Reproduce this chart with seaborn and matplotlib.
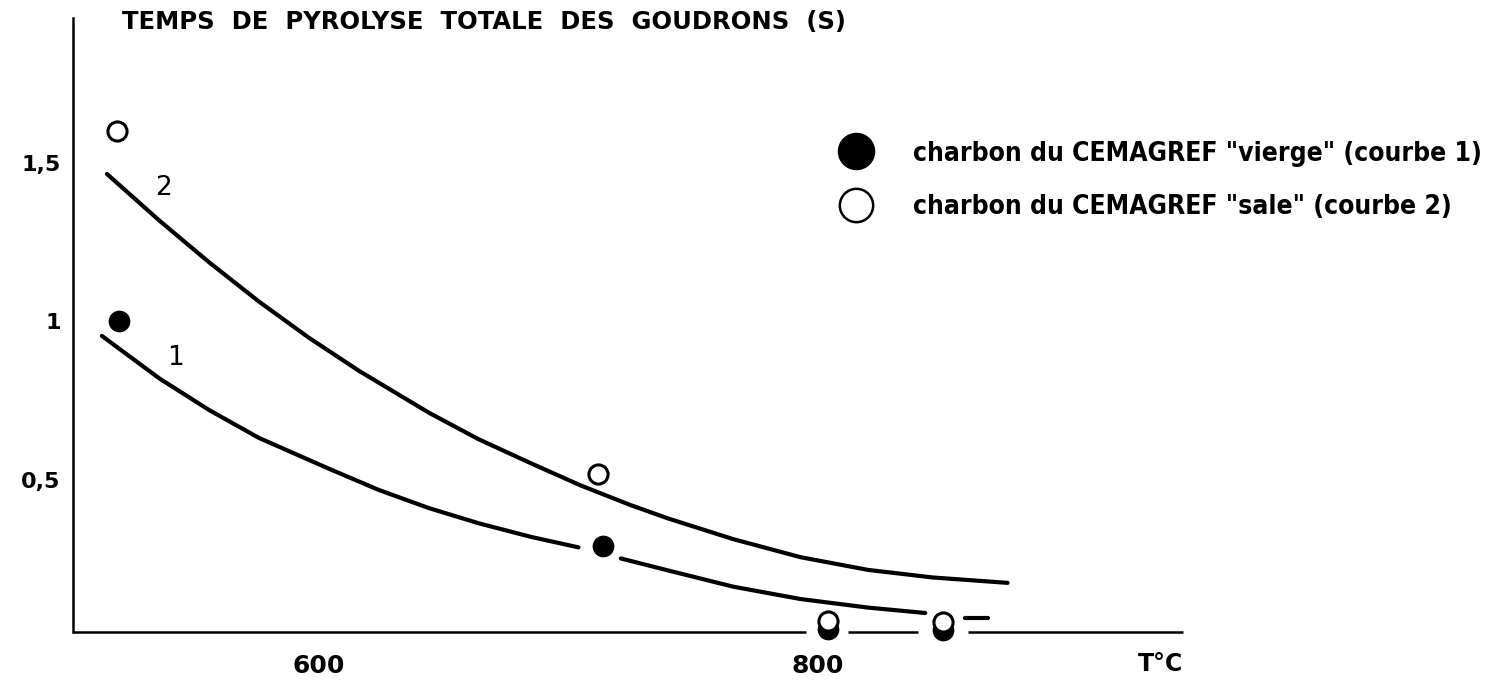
import matplotlib
matplotlib.use("Agg")
import matplotlib.pyplot as plt
from matplotlib.lines import Line2D
import seaborn as sns
import pandas as pd

# measured points (T in degC, time in s)
temp_vierge = [520, 714, 804, 850]
tps_vierge = [1.00, 0.29, 0.030, 0.027]
temp_sale = [519, 712, 804, 850]
tps_sale = [1.60, 0.52, 0.055, 0.052]

# fitted curve 2 ("sale")
curve2_T = [515, 536, 556, 576, 596, 616, 644, 664, 685, 705, 725, 740, 766, 793, 820, 846, 876]
curve2_t = [1.465, 1.318, 1.186, 1.062, 0.948, 0.844, 0.712, 0.628, 0.552, 0.482, 0.420,
            0.378, 0.313, 0.256, 0.216, 0.192, 0.175]

# fitted curve 1 ("vierge"), drawn in pieces
curve1_T_a = [513, 536, 556, 576, 604, 624, 644, 664, 685, 704]
curve1_t_a = [0.954, 0.820, 0.720, 0.632, 0.535, 0.468, 0.411, 0.363, 0.320, 0.287]
curve1_T_b = [721, 740, 766, 793, 820, 843]
curve1_t_b = [0.252, 0.214, 0.163, 0.124, 0.097, 0.080]
curve1_T_c = [859, 868]
curve1_t_c = [0.065, 0.065]

x_ticks = [600, 800]
y_ticks = [0.5, 1.0, 1.5]
y_ticklabels = ["0,5", "1", "1,5"]

# pieces of the T axis line (it is broken around the points near 800 and 850)
axis_start = [501.4, 812, 860]
axis_end = [795, 840, 946.3]

title = "TEMPS  DE  PYROLYSE  TOTALE  DES  GOUDRONS  (S)"
leg_labels = ['charbon du CEMAGREF "vierge" (courbe 1)',
              'charbon du CEMAGREF "sale" (courbe 2)']

sns.set_theme(style="white")
plt.rcParams["font.family"] = ["DejaVu Sans"]
plt.rcParams["text.color"] = "black"

fig = plt.figure(figsize=(15.04, 6.82), dpi=100)
ax = fig.add_axes([73 / 1504, 1 - 632 / 682, (1183 - 73) / 1504, (632 - 18) / 682])

c1 = pd.DataFrame({
    "T": curve1_T_a + curve1_T_b + curve1_T_c,
    "t": curve1_t_a + curve1_t_b + curve1_t_c,
    "seg": ["a"] * len(curve1_T_a) + ["b"] * len(curve1_T_b) + ["c"] * len(curve1_T_c),
})
c2 = pd.DataFrame({"T": curve2_T, "t": curve2_t, "seg": "a"})

sns.lineplot(data=c2, x="T", y="t", units="seg", estimator=None, color="black",
             lw=3.0, ax=ax, sort=False)
sns.lineplot(data=c1, x="T", y="t", units="seg", estimator=None, color="black",
             lw=3.0, ax=ax, sort=False)

pts_v = pd.DataFrame({"T": temp_vierge, "t": tps_vierge})
pts_s = pd.DataFrame({"T": temp_sale, "t": tps_sale})
sns.scatterplot(data=pts_v, x="T", y="t", color="black", s=200, edgecolor="black",
                linewidth=1.5, ax=ax, zorder=4, clip_on=False)
sns.scatterplot(data=pts_s, x="T", y="t", facecolor="white", s=190, edgecolor="black",
                linewidth=2.2, ax=ax, zorder=5, clip_on=False)

ax.text(537.5, 1.421, "2", fontsize=19, ha="center", va="center")
ax.text(542.3, 0.885, "1", fontsize=19, ha="center", va="center")

ax.set_xlim(501.4, 946.3)
ax.set_ylim(0.02, 1.957)
ax.set_xticks(x_ticks)
ax.set_xticklabels([str(v) for v in x_ticks])
ax.set_yticks(y_ticks)
ax.set_yticklabels(y_ticklabels)
ax.tick_params(axis="both", direction="in", length=10, width=1.8, color="black",
               labelcolor="black")
ax.tick_params(axis="x", labelsize=18, pad=16)
ax.tick_params(axis="y", labelsize=16, pad=9)
for lab in ax.get_xticklabels() + ax.get_yticklabels():
    lab.set_fontweight("bold")
ax.set_xlabel("")
ax.set_ylabel("")

for side in ["top", "right", "bottom"]:
    ax.spines[side].set_visible(False)
ax.spines["left"].set_color("black")
ax.spines["left"].set_linewidth(1.8)
ax.hlines([0.02] * len(axis_start), axis_start, axis_end, color="black", lw=1.8,
          clip_on=False, zorder=3)

ax.text(1.0, -0.052, "T°C", transform=ax.transAxes, ha="right", va="center",
        fontsize=17, fontweight="bold")
fig.text(122 / 1504, 1 - 22 / 682, title, ha="left", va="center",
         fontsize=17.5, fontweight="bold")

handles = [
    Line2D([], [], ls="none", marker="o", ms=26, mfc="black", mec="black"),
    Line2D([], [], ls="none", marker="o", ms=24, mfc="white", mec="black", mew=1.8),
]
leg = ax.legend(handles, leg_labels, loc="upper left", frameon=False,
                bbox_to_anchor=(826 / 1504, 1 - 130 / 682), bbox_transform=fig.transFigure,
                fontsize=19, labelspacing=1.05, handletextpad=1.4, handlelength=1.5,
                borderaxespad=0)
for t in leg.get_texts():
    t.set_fontstretch("condensed")
    t.set_fontweight("bold")
    t.set_color("black")

fig.savefig("out.png", dpi=100)
